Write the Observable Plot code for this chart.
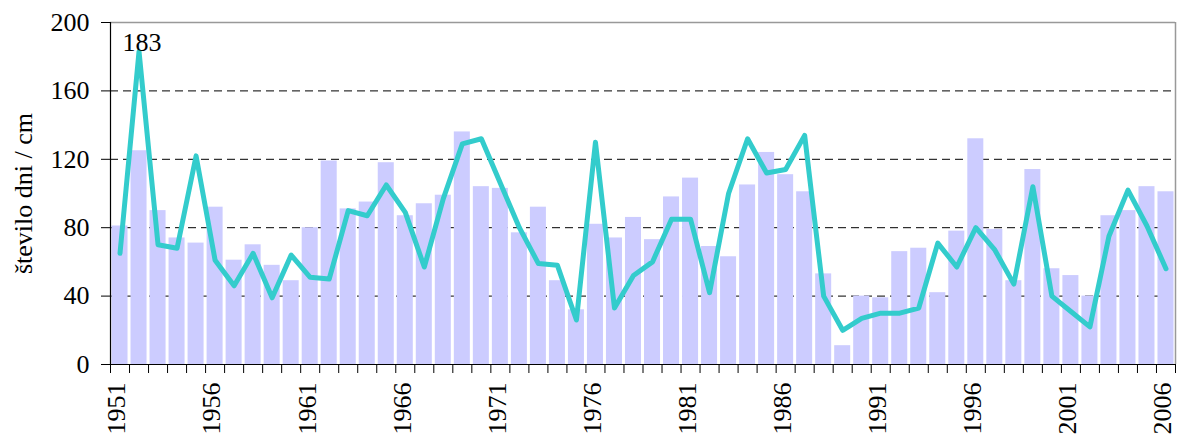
<!DOCTYPE html>
<html>
<head>
<meta charset="utf-8">
<script src="https://cdn.jsdelivr.net/npm/d3@7"></script>
<script src="https://cdn.jsdelivr.net/npm/@observablehq/plot@0.6"></script>
<style>
  html, body { margin: 0; padding: 0; background: #fff; }
  #chart svg { display: block; }
  #chart svg, #chart svg text { font-family: "Liberation Serif", "Times New Roman", serif !important; }
</style>
</head>
<body>
<div id="chart"></div>
<script>
const years = [1951,1952,1953,1954,1955,1956,1957,1958,1959,1960,
  1961,1962,1963,1964,1965,1966,1967,1968,1969,1970,
  1971,1972,1973,1974,1975,1976,1977,1978,1979,1980,
  1981,1982,1983,1984,1985,1986,1987,1988,1989,1990,
  1991,1992,1993,1994,1995,1996,1997,1998,1999,2000,
  2001,2002,2003,2004,2005,2006];

// bars: število dni
const barValues = [81,125,90,74,71,92,61,70,58,49,
  80,119,91,95,118,87,94,99,136,104,
  103,77,92,49,32,82,74,86,73,98,
  109,69,63,105,124,111,101,53,11,40,
  39,66,68,42,78,132,79,49,114,56,
  52,40,87,90,104,101];

// line: cm
const lineValues = [65,183,70,68,122,61,46,65,39,64,
  51,50,90,87,105,89,57,97,129,132,
  106,80,59,58,26,130,33,52,60,85,
  85,42,100,132,112,114,134,40,20,27,
  30,30,33,71,57,80,67,47,104,40,
  31,22,75,102,81,56];

const yTicks = [0, 40, 80, 120, 160, 200];
const gridValues = [40, 80, 120, 160];
const labelYears = [1951,1956,1961,1966,1971,1976,1981,1986,1991,1996,2001,2006];
const peakLabel = [{year: 1952, value: 183, text: "183"}];

const data = years.map((y, i) => ({year: y, bar: barValues[i], line: lineValues[i]}));
const boundaries = d3.range(years[0] - 0.5, years[years.length - 1] + 1, 1);

const font = "Liberation Serif, Times New Roman, serif";

const chart = Plot.plot({
  width: 1177,
  height: 434,
  marginTop: 22,
  marginBottom: 70,
  marginLeft: 110,
  marginRight: 2,
  style: {fontFamily: font, fontSize: "26px", color: "#000", background: "#fff", overflow: "visible"},
  x: {domain: [years[0] - 0.5, years[years.length - 1] + 0.5]},
  y: {domain: [0, 200]},
  marks: [
    Plot.ruleY(gridValues, {stroke: "#000", strokeWidth: 1, strokeDasharray: "8,5"}),
    Plot.rectY(data, {x1: d => d.year - 0.5, x2: d => d.year + 0.5, y: "bar", fill: "#ccccff", insetLeft: 1.5, insetRight: 1.5}),
    Plot.ruleY([200], {stroke: "#999", strokeWidth: 1.5}),
    Plot.ruleX([years[years.length - 1] + 0.5], {stroke: "#999", strokeWidth: 1.5}),
    Plot.ruleX([years[0] - 0.5], {stroke: "#000", strokeWidth: 1.2}),
    Plot.ruleY([0], {stroke: "#000", strokeWidth: 1.2}),
    Plot.line(data, {x: "year", y: "line", stroke: "#33cccc", strokeWidth: 5, strokeLinejoin: "round", strokeLinecap: "round"}),
    Plot.text(peakLabel, {x: "year", y: "value", text: "text", lineAnchor: "bottom", dy: -1, dx: 3, fontSize: 26, fontFamily: font, fill: "#000"}),
    Plot.axisY({ticks: yTicks, tickSize: 9, tickPadding: 12, tickFormat: d => String(d), fontSize: 26, fontFamily: font,
      label: "število dni / cm", labelAnchor: "center", labelArrow: "none", labelOffset: 97}),
    Plot.axisX({ticks: boundaries, tickSize: 9, tickFormat: () => "", label: null}),
    Plot.axisX({ticks: labelYears, tickSize: 0, tickPadding: 18, tickRotate: -90, dx: -3, tickFormat: d => String(d), fontSize: 26, fontFamily: font, label: null})
  ]
});

document.getElementById("chart").appendChild(chart);
</script>
</body>
</html>
